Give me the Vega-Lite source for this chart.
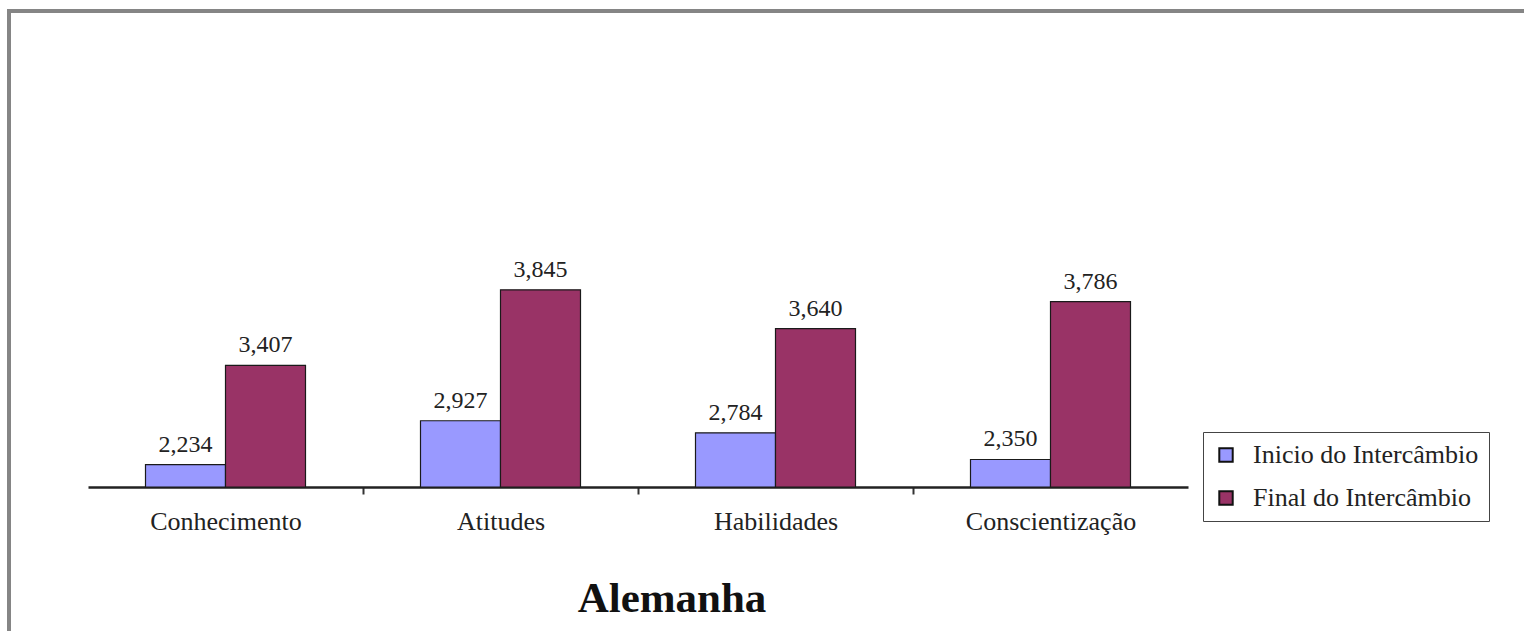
{
  "$schema": "https://vega.github.io/schema/vega-lite/v6.json",
  "autosize": "none",
  "padding": {"left": 9, "top": 11, "right": 0, "bottom": 0},
  "width": 1530,
  "height": 650,
  "background": "white",
  "config": {
    "locale": {"number": {"decimal": ",", "thousands": ".", "grouping": [3], "currency": ["", ""]}},
    "view": {"stroke": "#858585", "strokeWidth": 4},
    "font": "Liberation Serif"
  },
  "title": {
    "text": "Alemanha",
    "orient": "bottom",
    "frame": "group",
    "offset": -83,
    "dx": -102,
    "font": "Liberation Serif",
    "fontSize": 43,
    "fontWeight": "bold",
    "color": "#111111"
  },
  "data": {
    "values": [
      {"dimensao": "Conhecimento", "momento": "Inicio do Intercâmbio", "media": 2.234},
      {"dimensao": "Conhecimento", "momento": "Final do Intercâmbio", "media": 3.407},
      {"dimensao": "Atitudes", "momento": "Inicio do Intercâmbio", "media": 2.927},
      {"dimensao": "Atitudes", "momento": "Final do Intercâmbio", "media": 3.845},
      {"dimensao": "Habilidades", "momento": "Inicio do Intercâmbio", "media": 2.784},
      {"dimensao": "Habilidades", "momento": "Final do Intercâmbio", "media": 3.64},
      {"dimensao": "Conscientização", "momento": "Inicio do Intercâmbio", "media": 2.35},
      {"dimensao": "Conscientização", "momento": "Final do Intercâmbio", "media": 3.786}
    ]
  },
  "encoding": {
    "x": {
      "field": "dimensao",
      "type": "nominal",
      "sort": ["Conhecimento", "Atitudes", "Habilidades", "Conscientização"],
      "scale": {"range": [79, 1179], "paddingInner": 0, "paddingOuter": 0},
      "axis": {
        "title": null,
        "orient": "bottom",
        "offset": -174,
        "grid": false,
        "domainColor": "#222222",
        "domainWidth": 2.5,
        "tickColor": "#333333",
        "tickOpacity": {"condition": {"test": "datum.extra || datum.value === 'Conscientização'", "value": 0}, "value": 1},
        "tickWidth": 2,
        "tickSize": 7,
        "tickBand": "extent",
        "labelAngle": 0,
        "labelFont": "Liberation Serif",
        "labelFontSize": 26,
        "labelColor": "#222222",
        "labelPadding": 14
      }
    },
    "xOffset": {
      "field": "momento",
      "type": "nominal",
      "sort": ["Inicio do Intercâmbio", "Final do Intercâmbio"],
      "scale": {"paddingInner": 0, "paddingOuter": 0.71875}
    },
    "y": {
      "field": "media",
      "type": "quantitative",
      "scale": {"type": "pow", "exponent": 4, "domain": [0, 4.5], "range": [476, 106], "nice": false},
      "axis": null
    }
  },
  "layer": [
    {
      "mark": {"type": "bar", "stroke": "#1a1a1a", "strokeWidth": 1.2},
      "encoding": {
        "color": {
          "field": "momento",
          "type": "nominal",
          "scale": {
            "domain": ["Inicio do Intercâmbio", "Final do Intercâmbio"],
            "range": ["#9999ff", "#993366"]
          },
          "legend": {
            "title": null,
            "orient": "none",
            "legendX": 1194,
            "legendY": 421,
            "direction": "vertical",
            "strokeColor": "#444444",
            "fillColor": "white",
            "padding": 10,
            "symbolType": "square",
            "symbolSize": 180,
            "symbolStrokeColor": "#111111",
            "symbolStrokeWidth": 2,
            "symbolOpacity": 1,
            "labelFont": "Liberation Serif",
            "labelFontSize": 26,
            "labelColor": "#222222",
            "labelLimit": 400,
            "labelOffset": 14,
            "rowPadding": 17
          }
        }
      }
    },
    {
      "mark": {"type": "text", "baseline": "alphabetic", "dy": -13, "fontSize": 24, "font": "Liberation Serif", "color": "#222222"},
      "encoding": {
        "text": {"field": "media", "type": "quantitative", "format": ".3f"}
      }
    }
  ]
}
